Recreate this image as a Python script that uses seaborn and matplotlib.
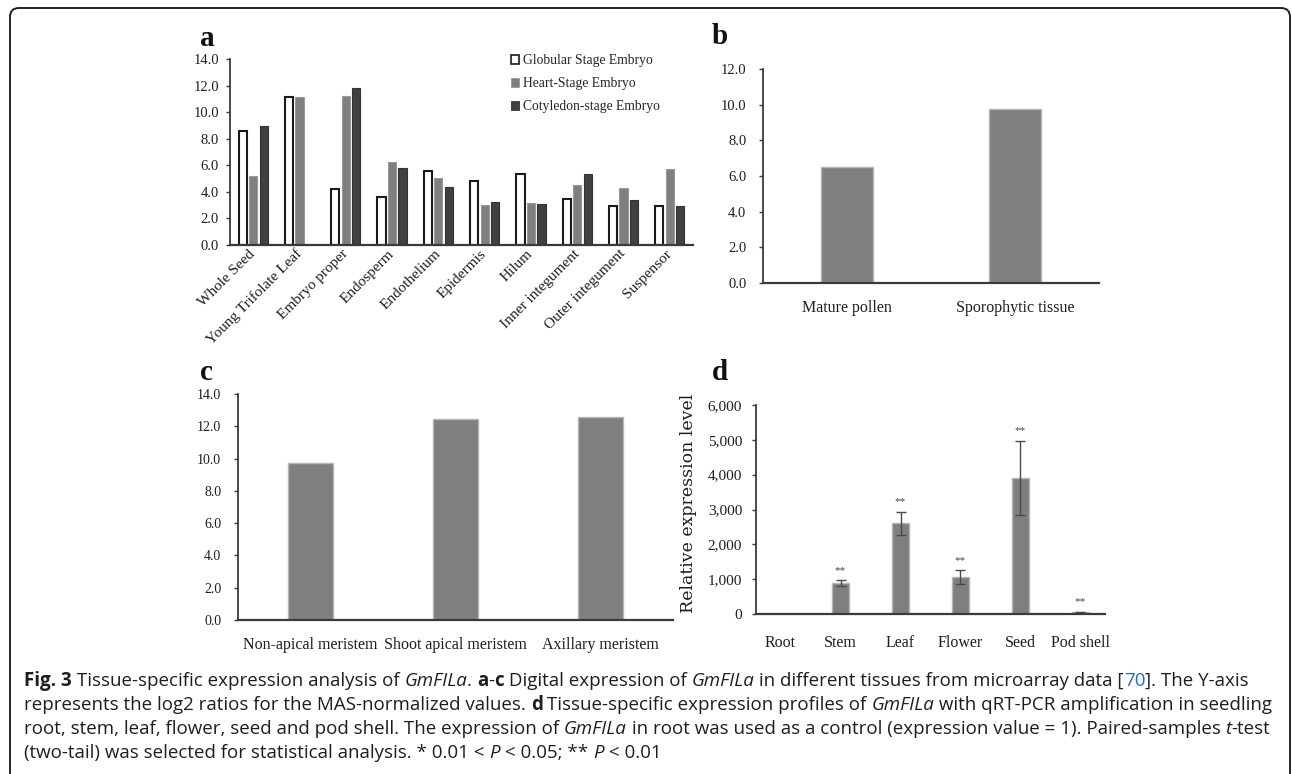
import numpy as np
import pandas as pd
import matplotlib
matplotlib.use("Agg")
import matplotlib.pyplot as plt
import matplotlib.patches as mpatches
from matplotlib.ticker import StrMethodFormatter
import seaborn as sns

# ---------------- data ----------------
# (a) microarray expression across seed tissues / embryo stages
tissues_a = ["Whole Seed", "Young Trifolate Leaf", "Embryo proper", "Endosperm",
             "Endothelium", "Epidermis", "Hilum", "Inner integument",
             "Outer integument", "Suspensor"]
stages_a = ["Globular Stage Embryo", "Heart-Stage Embryo", "Cotyledon-stage Embryo"]
globular = [8.55, 11.12, 4.25, 3.58, 5.55, 4.78, 5.38, 3.5, 2.97, 2.97]
heart = [5.22, 11.12, 11.25, 6.24, 5.05, 2.98, 3.18, 4.55, 4.28, 5.72]
cotyledon = [8.92, np.nan, 11.78, 5.83, 4.36, 3.25, 3.08, 5.38, 3.42, 2.9]

# (b) pollen vs sporophyte
tissues_b = ["Mature pollen", "Sporophytic tissue"]
values_b = [6.52, 9.74]

# (c) meristems
tissues_c = ["Non-apical meristem", "Shoot apical meristem", "Axillary meristem"]
values_c = [9.72, 12.48, 12.56]

# (d) qRT-PCR relative expression
tissues_d = ["Root", "Stem", "Leaf", "Flower", "Seed", "Pod shell"]
values_d = [1, 880, 2600, 1050, 3900, 45]
errors_d = [0, 90, 340, 200, 1070, 15]
signif_d = ["", "**", "**", "**", "**", "**"]

# ---------------- style ----------------
sns.set_theme(style="ticks")
plt.rcParams["font.family"] = ["Liberation Serif", "DejaVu Serif"]
plt.rcParams["axes.linewidth"] = 1.3

W, H = 1292, 774
fig = plt.figure(figsize=(W / 100, H / 100), dpi=100)
fig.patch.set_facecolor("white")


def frame(x0, y0, x1, y1):
    return [x0 / W, 1 - y1 / H, (x1 - x0) / W, (y1 - y0) / H]


AX_COL = "#3a3a3a"
TXT_COL = "#1e1e1e"
MID_GRAY = "#7f7f7f"
DARK_GRAY = "#404040"


def style_axis(ax, ymax, step, fmt, ysize, xsize, ypad, xpad):
    ax.set_ylim(0, ymax)
    ax.set_yticks(np.arange(0, ymax + step / 2, step))
    ax.yaxis.set_major_formatter(StrMethodFormatter(fmt))
    sns.despine(ax=ax)
    for s in ("left", "bottom"):
        ax.spines[s].set_color(AX_COL)
    ax.spines["bottom"].set_linewidth(1.6)
    ax.tick_params(axis="y", length=3, width=1, color=AX_COL, pad=ypad,
                   labelsize=ysize, labelcolor=TXT_COL)
    ax.tick_params(axis="x", length=0, pad=xpad, labelsize=xsize, labelcolor=TXT_COL)
    ax.set_xlabel("")
    ax.set_ylabel("")


# ---------------- panel a ----------------
ax_a = fig.add_axes(frame(230, 59, 693, 245))
df_a = pd.DataFrame({
    "tissue": tissues_a * 3,
    "stage": np.repeat(stages_a, len(tissues_a)),
    "value": globular + heart + cotyledon,
})
fills_a = ["white", MID_GRAY, DARK_GRAY]
edges_a = ["#1a1a1a", "#9a9a9a", "#333333"]
widths_a = [1.5, 0.8, 0.8]
sns.barplot(data=df_a, x="tissue", y="value", hue="stage", palette=fills_a,
            width=0.68, gap=0.22, errorbar=None, ax=ax_a, legend=False)
for cont, ec, lw in zip(ax_a.containers, edges_a, widths_a):
    for bar in cont:
        bar.set_edgecolor(ec)
        bar.set_linewidth(lw)
style_axis(ax_a, 14, 2, "{x:.1f}", 10.5, 11, 5, 5)
plt.setp(ax_a.get_xticklabels(), rotation=45, ha="right", va="center",
         rotation_mode="anchor")
handles = [mpatches.Patch(facecolor=f, edgecolor=e, linewidth=lw, label=l)
           for f, e, lw, l in zip(fills_a, edges_a, [1.2, 0.6, 0.6], stages_a)]
ax_a.legend(handles=handles, loc="upper left", frameon=False,
            bbox_to_anchor=(511 / W, 1 - 54 / H), bbox_transform=fig.transFigure,
            borderpad=0, borderaxespad=0, handlelength=0.6, handleheight=0.6,
            handletextpad=0.25, labelspacing=0.75, fontsize=9.8)

# ---------------- panel b ----------------
ax_b = fig.add_axes(frame(763, 69, 1099, 283))
sns.barplot(x=tissues_b, y=values_b, color=MID_GRAY, width=0.31, saturation=1,
            edgecolor="#b5b5b5", linewidth=1, errorbar=None, ax=ax_b)
style_axis(ax_b, 12, 2, "{x:.1f}", 10.5, 11.5, 9, 12)

# ---------------- panel c ----------------
ax_c = fig.add_axes(frame(238, 394, 673, 620))
sns.barplot(x=tissues_c, y=values_c, color=MID_GRAY, width=0.31, saturation=1,
            edgecolor="#b5b5b5", linewidth=1, errorbar=None, ax=ax_c)
style_axis(ax_c, 14, 2, "{x:.1f}", 10, 11.5, 9, 12)

# ---------------- panel d ----------------
ax_d = fig.add_axes(frame(756, 405, 1105, 614))
sns.barplot(x=tissues_d, y=values_d, color=MID_GRAY, width=0.29, saturation=1,
            edgecolor="#b5b5b5", linewidth=1, errorbar=None, ax=ax_d)
pos_d = np.arange(len(tissues_d))
ax_d.errorbar(pos_d, values_d, yerr=errors_d, fmt="none", ecolor="#4a4a4a",
              elinewidth=1, capsize=3.5, capthick=1)
for x, v, e, s in zip(pos_d, values_d, errors_d, signif_d):
    if s:
        ax_d.text(x, v + e + 160, s, ha="center", va="bottom", fontsize=8,
                  color="#444444")
style_axis(ax_d, 6000, 1000, "{x:,.0f}", 11, 11.5, 7, 15)
ax_d.set_ylabel("Relative expression level", fontfamily="DejaVu Serif",
                fontsize=12.5, color=TXT_COL)
ax_d.yaxis.set_label_coords(-0.17, 0.53)

# ---------------- panel letters ----------------
for letter, x, y in [("a", 207, 38), ("b", 720, 37), ("c", 206, 373), ("d", 720, 372)]:
    fig.text(x / W, 1 - y / H, letter, fontsize=21, fontweight="bold",
             ha="center", va="center", color="#111111")

# ---------------- caption ----------------
CAP_FONT = ["Open Sans", "DejaVu Sans"]
CAP_SIZE = 13.5
LINK = "#1f6fc0"
caption = [
    [("Fig. 3", "bold", "normal", TXT_COL),
     (" Tissue-specific expression analysis of ", "normal", "normal", TXT_COL),
     ("GmFILa", "normal", "italic", TXT_COL), (". ", "normal", "normal", TXT_COL),
     ("a", "bold", "normal", TXT_COL), ("-", "normal", "normal", TXT_COL),
     ("c", "bold", "normal", TXT_COL),
     (" Digital expression of ", "normal", "normal", TXT_COL),
     ("GmFILa", "normal", "italic", TXT_COL),
     (" in different tissues from microarray data [", "normal", "normal", TXT_COL),
     ("70", "normal", "normal", LINK),
     ("]. The Y-axis", "normal", "normal", TXT_COL)],
    [("represents the log2 ratios for the MAS-normalized values. ", "normal", "normal", TXT_COL),
     ("d", "bold", "normal", TXT_COL),
     (" Tissue-specific expression profiles of ", "normal", "normal", TXT_COL),
     ("GmFILa", "normal", "italic", TXT_COL),
     (" with qRT-PCR amplification in seedling", "normal", "normal", TXT_COL)],
    [("root, stem, leaf, flower, seed and pod shell. The expression of ", "normal", "normal", TXT_COL),
     ("GmFILa", "normal", "italic", TXT_COL),
     (" in root was used as a control (expression value = 1). Paired-samples ", "normal", "normal", TXT_COL),
     ("t", "normal", "italic", TXT_COL),
     ("-test", "normal", "normal", TXT_COL)],
    [("(two-tail) was selected for statistical analysis. * 0.01 < ", "normal", "normal", TXT_COL),
     ("P", "normal", "italic", TXT_COL),
     (" < 0.05; ** ", "normal", "normal", TXT_COL),
     ("P", "normal", "italic", TXT_COL),
     (" < 0.01", "normal", "normal", TXT_COL)],
]
renderer = fig.canvas.get_renderer()


def advance(text, props):
    # width of a run measured against a reference glyph, so ink overhang cancels
    t1 = fig.text(0, 0, text + "|", **props)
    t2 = fig.text(0, 0, "|", **props)
    w = t1.get_window_extent(renderer).width - t2.get_window_extent(renderer).width
    t1.remove()
    t2.remove()
    return w


for i, runs in enumerate(caption):
    x_px = 24
    y = 1 - (681 + 24 * i) / H
    for text, weight, style, col in runs:
        props = dict(fontfamily=CAP_FONT, fontsize=CAP_SIZE, fontweight=weight,
                     fontstyle=style, color=col, ha="left", va="center")
        fig.text(x_px / W, y, text, **props)
        x_px += advance(text, props)

# ---------------- outer rounded frame ----------------
frame_box = mpatches.FancyBboxPatch(
    (0.10, -0.4), 12.80, 7.66 + 0.4,
    boxstyle="round,pad=0,rounding_size=0.09",
    transform=fig.dpi_scale_trans, facecolor="none",
    edgecolor="#222222", linewidth=1.4)
fig.add_artist(frame_box)

fig.savefig("out.png", dpi=100, facecolor="white")
